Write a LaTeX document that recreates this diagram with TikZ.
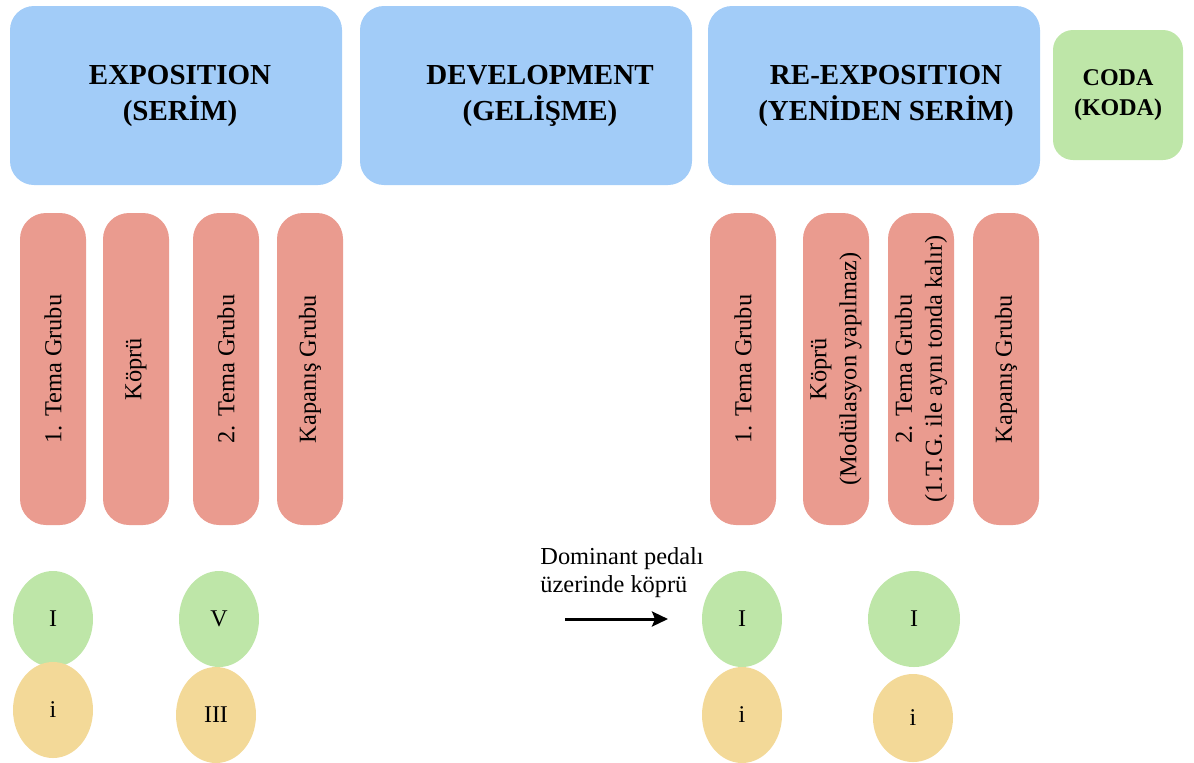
\documentclass[tikz,border=0pt]{standalone}
\usepackage{fontspec}
\setmainfont{Liberation Serif}
\usetikzlibrary{arrows,arrows.meta,shapes}
\definecolor{partblue}{RGB}{162,204,248}
\definecolor{grouppink}{RGB}{234,155,143}
\definecolor{majorgreen}{RGB}{190,230,168}
\definecolor{minororange}{RGB}{243,217,152}
\tikzstyle{part} = [rectangle, fill=partblue, rounded corners=12pt,
    minimum width=166pt, minimum height=89.5pt]
\tikzstyle{parttext} = [font=\bfseries\fontsize{14.5}{18}\selectfont, align=center]
\tikzstyle{group} = [rectangle, fill=grouppink, rounded corners=13pt, rotate=90,
    minimum width=156pt, minimum height=33pt, align=center, inner sep=1pt,
    font=\fontsize{12.2}{15}\selectfont]
\tikzstyle{major} = [ellipse, fill=majorgreen, inner sep=0pt,
    minimum width=40pt, minimum height=48pt, font=\fontsize{12}{14}\selectfont]
\tikzstyle{minor} = [ellipse, fill=minororange, inner sep=0pt,
    minimum width=40pt, minimum height=48pt, font=\fontsize{12}{14}\selectfont]

\begin{document}
\begin{tikzpicture}[x=0.5pt,y=-0.5pt]
  \useasboundingbox (0,0) rectangle (1194,762);

  % main sections
  \node[part, label={[parttext,xshift=2pt]center:EXPOSITION\\(SERİM)}] (expo) at (176,95.5) {};
  \node[part, label={[parttext,xshift=7pt]center:DEVELOPMENT\\(GELİŞME)}] (dev) at (526,95.5) {};
  \node[part, label={[parttext,xshift=6pt]center:RE-EXPOSITION\\(YENİDEN SERİM)}] (reexpo) at (874,95.5) {};
  \node[part, fill=majorgreen, rounded corners=10pt, minimum width=65pt, minimum height=65pt,
        font=\bfseries\fontsize{12}{15}\selectfont, align=center] (coda) at (1118,95) {CODA\\(KODA)};

  % groups of the exposition
  \node[group] (e1) at (53,369)  {1. Tema Grubu};
  \node[group] (e2) at (136,369) {Köprü};
  \node[group] (e3) at (226,369) {2. Tema Grubu};
  \node[group] (e4) at (310,369) {Kapanış Grubu};

  % groups of the re-exposition
  \node[group] (r1) at (743,369)  {1. Tema Grubu};
  \node[group] (r2) at (836,369)  {Köprü\\(Modülasyon yapılmaz)};
  \node[group] (r3) at (921,369)  {2. Tema Grubu\\(1.T.G. ile aynı tonda kalır)};
  \node[group] (r4) at (1006,369) {Kapanış Grubu};

  % keys
  \node[major] (eI)   at (53,619)  {I};
  \node[minor] (ei)   at (53,710)  {i};
  \node[major] (eV)   at (219,619) {V};
  \node[minor] (eIII) at (216,715) {III};

  \node[major] (rI)   at (742,619) {I};
  \node[minor] (ri)   at (742,715) {i};
  \node[major, minimum width=46pt] (rI2) at (914,619) {I};
  \node[minor, minimum height=44pt] (ri2) at (913,718) {i};

  \node[anchor=north west, align=left, inner sep=0pt,
        font=\fontsize{12.2}{14}\selectfont] (pedal) at (540,547) {Dominant pedalı\\üzerinde köprü};
  \coordinate (from) at (565,619);
  \coordinate (to) at (668,619);
  \draw[-{Stealth[length=8pt,width=7.5pt,inset=1.5pt]}, line width=1.5pt] (from) -- (to);
\end{tikzpicture}
\end{document}
